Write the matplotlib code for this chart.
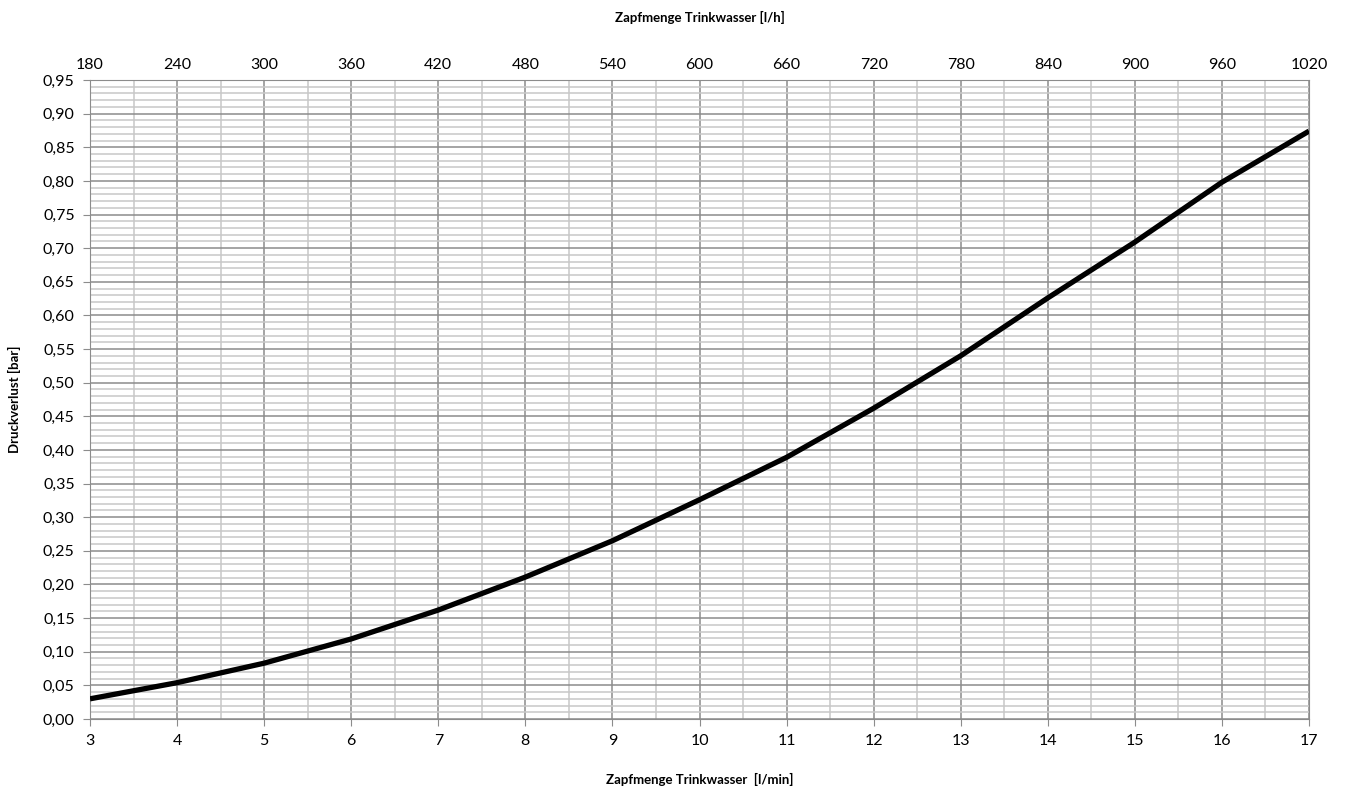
import numpy as np
import matplotlib
matplotlib.use('Agg')
from matplotlib import pyplot as plt
from matplotlib.ticker import MultipleLocator, FuncFormatter

plt.rcParams['font.family'] = ['Lato', 'DejaVu Sans']

# data
flow_lmin = [3, 4, 5, 6, 7, 8, 9, 10, 11, 12, 13, 14, 15, 16, 17]
dp_bar = [0.030, 0.054, 0.083, 0.119, 0.162, 0.211, 0.265, 0.326, 0.389, 0.462,
          0.540, 0.626, 0.709, 0.798, 0.874]
top_ticks = [180, 240, 300, 360, 420, 480, 540, 600, 660, 720, 780, 840, 900, 960, 1020]

fig = plt.figure(figsize=(13.46, 7.87), dpi=100)
ax = fig.add_axes([90/1346, 68/787, 1219/1346, 639/787])

ax.set_xlim(3, 17)
ax.set_ylim(0, 0.95)
ax.xaxis.set_major_locator(MultipleLocator(1))
ax.xaxis.set_minor_locator(MultipleLocator(0.5))
ax.yaxis.set_major_locator(MultipleLocator(0.05))
ax.yaxis.set_minor_locator(MultipleLocator(0.01))
ax.yaxis.set_major_formatter(FuncFormatter(lambda v, p: ('%.2f' % v).replace('.', ',')))

ax.grid(which='major', color='#8c8c8c', lw=1.1)
ax.grid(which='minor', color='#c8c8c8', lw=1.1)
ax.set_axisbelow(True)
ax.tick_params(which='minor', length=0)
ax.tick_params(which='major', length=5, color='#8c8c8c', labelsize=11.5, pad=6)
for s in ax.spines.values():
    s.set_color('#8c8c8c')

ax.plot(flow_lmin, dp_bar, color='black', lw=3.8, solid_capstyle='butt', zorder=3)

ax.set_xlabel('Zapfmenge Trinkwasser  [l/min]', fontsize=9.5, fontweight='bold', labelpad=18)
ax.set_ylabel('Druckverlust [bar]', fontsize=9.5, fontweight='bold', labelpad=16)

top = ax.twiny()
top.set_xlim(3*60, 17*60)
top.set_xticks(top_ticks)
top.tick_params(length=0, labelsize=11.5, pad=6)
for s in top.spines.values():
    s.set_visible(False)
top.set_xlabel('Zapfmenge Trinkwasser [l/h]', fontsize=9.5, fontweight='bold', labelpad=26)

fig.savefig('out.png', dpi=100)
